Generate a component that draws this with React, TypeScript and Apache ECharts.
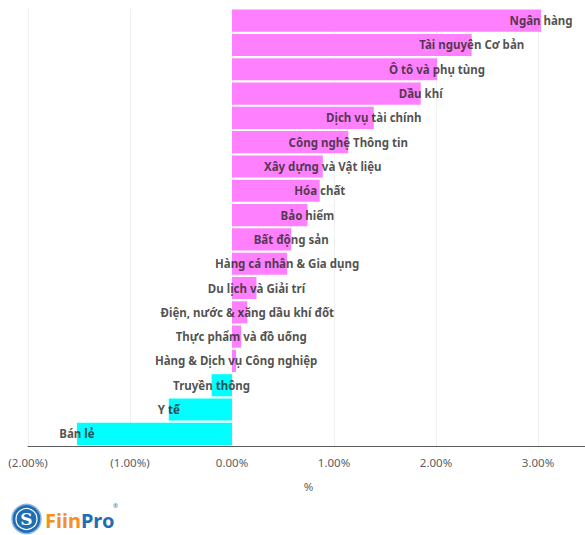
import React, { useEffect, useRef } from "react";
import * as echarts from "echarts";

const categories = [
  "Ngân hàng",
  "Tài nguyên Cơ bản",
  "Ô tô và phụ tùng",
  "Dầu khí",
  "Dịch vụ tài chính",
  "Công nghệ Thông tin",
  "Xây dựng và Vật liệu",
  "Hóa chất",
  "Bảo hiểm",
  "Bất động sản",
  "Hàng cá nhân & Gia dụng",
  "Du lịch và Giải trí",
  "Điện, nước & xăng dầu khí đốt",
  "Thực phẩm và đồ uống",
  "Hàng & Dịch vụ Công nghiệp",
  "Truyền thông",
  "Y tế",
  "Bán lẻ",
];

const values = [
  3.03, 2.35, 2.01, 1.85, 1.39, 1.14, 0.89, 0.86, 0.74, 0.58, 0.54, 0.24, 0.15,
  0.09, 0.04, -0.2, -0.62, -1.52,
];

const tickValues = [-2, -1, 0, 1, 2, 3];
const axisName = "%";

const POS_COLOR = "#FF80FF";
const NEG_COLOR = "#00FFFF";
const FONT = "'Noto Sans', 'Open Sans', sans-serif";

function fmtTick(v: number): string {
  if (!tickValues.includes(v)) return "";
  const s = Math.abs(v).toFixed(2) + "%";
  return v < 0 ? "(" + s + ")" : s;
}

export default function App() {
  const ref = useRef<HTMLDivElement>(null);
  useEffect(() => {
    if (!ref.current) return;
    const chart = echarts.init(ref.current, undefined, { renderer: "svg" });
    chart.setOption({
      animation: false,
      backgroundColor: "#ffffff",
      textStyle: { fontFamily: FONT },
      grid: {
        left: 28,
        width: 561,
        top: 8.5,
        bottom: 89,
        containLabel: false,
        outerBoundsMode: "none",
      },
      xAxis: {
        type: "value",
        min: -2,
        max: 3.5,
        interval: 1,
        name: axisName,
        nameLocation: "middle",
        nameGap: 34,
        nameTextStyle: { color: "#605e5c", fontSize: 11.5, fontFamily: FONT },
        axisLine: { show: true, onZero: false, lineStyle: { color: "#605e5c", width: 1 } },
        axisTick: { show: false },
        axisLabel: {
          color: "#605e5c",
          fontSize: 11.5,
          margin: 10,
          fontFamily: FONT,
          showMaxLabel: false,
          formatter: (v: number) => fmtTick(v),
        },
        splitLine: { show: true, lineStyle: { color: "#f0f0f0", width: 1 } },
      },
      yAxis: {
        type: "category",
        data: categories,
        inverse: true,
        axisLine: { show: false },
        axisTick: { show: false },
        axisLabel: { show: false },
        splitLine: { show: false },
      },
      series: [
        {
          type: "bar",
          barCategoryGap: "9%",
          data: values.map((v) => ({
            value: v,
            itemStyle: { color: v >= 0 ? POS_COLOR : NEG_COLOR },
          })),
          silent: true,
        },
        {
          type: "scatter",
          symbolSize: 1,
          itemStyle: { color: "rgba(0,0,0,0)" },
          silent: true,
          data: values.map((v, i) => [v, categories[i]]),
          label: {
            show: true,
            position: "inside",
            formatter: (p: any) => categories[p.dataIndex],
            color: "#252423",
            fontWeight: "bold",
            fontSize: 11.5,
            fontFamily: FONT,
          },
          z: 5,
        },
      ],
      graphic: [
        {
          type: "circle",
          shape: { cx: 26.5, cy: 519, r: 14.5 },
          style: { fill: "#1f6db3", stroke: "#8db6df", lineWidth: 1.5 },
        },
        {
          type: "circle",
          shape: { cx: 26.5, cy: 519, r: 10.5 },
          style: { fill: "none", stroke: "#ffffff", lineWidth: 1.2 },
        },
        {
          type: "text",
          x: 26.5,
          y: 519,
          style: {
            text: "S",
            fill: "#ffffff",
            font: "bold 17px 'DejaVu Serif', serif",
            align: "center",
            verticalAlign: "middle",
          },
        },
        {
          type: "text",
          x: 45,
          y: 520,
          style: {
            text: "{f|Fiin}{p|Pro}",
            verticalAlign: "middle",
            rich: {
              f: { fill: "#f39124", fontSize: 20, fontWeight: "bold", fontFamily: FONT },
              p: { fill: "#1f6db3", fontSize: 20, fontWeight: "bold", fontFamily: FONT },
            },
          },
        },
        {
          type: "text",
          x: 113,
          y: 506,
          style: {
            text: "®",
            fill: "#1f6db3",
            font: "6px 'Noto Sans', sans-serif",
            verticalAlign: "middle",
          },
        },
      ],
    });
    return () => chart.dispose();
  }, []);
  return (
    <div
      ref={ref}
      style={{ position: "fixed", left: 0, top: 0, width: 585, height: 535 }}
    />
  );
}
